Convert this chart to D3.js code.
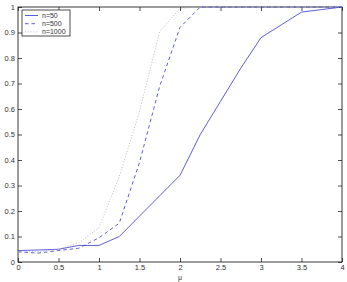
<!DOCTYPE html>
<html><head><meta charset="utf-8">
<script src="https://cdn.jsdelivr.net/npm/d3@7"></script>
<style>body{margin:0;background:#fff}svg{display:block}text{font-family:"Liberation Sans",Arial,sans-serif}</style>
</head><body><svg id="c" width="347" height="282"></svg>
<script>
const mu = [0,0.25,0.5,0.75,1,1.25,1.5,1.75,2,2.25,2.5,2.75,3,3.25,3.5,3.75,4];
const n50   = [0.045,0.047,0.05,0.065,0.065,0.1,0.18,0.26,0.34,0.5,0.63,0.76,0.88,0.93,0.98,0.99,1.0];
const n500  = [0.04,0.035,0.045,0.054,0.095,0.152,0.39,0.69,0.92,1.0,1.0,1.0,1.0,1.0,1.0,1.0,1.0];
const n1000 = [0.04,0.04,0.05,0.075,0.135,0.335,0.59,0.905,0.995,1.0,1.0,1.0,1.0,1.0,1.0,1.0,1.0];
const xTicks = [0,0.5,1,1.5,2,2.5,3,3.5,4];
const yTicks = [0,0.1,0.2,0.3,0.4,0.5,0.6,0.7,0.8,0.9,1];
const seriesNames = ["n=50","n=500","n=1000"];

const svg = d3.select("#c");
const L=18,R=342,T=7,B=262;
const x = d3.scaleLinear().domain([0,4]).range([L,R]);
const y = d3.scaleLinear().domain([0,1]).range([B,T]);
const fmt = d => d3.format("")(d);

const axCol="#222", txtCol="#333";
function axisStyle(g){g.select(".domain").remove();g.selectAll("line").attr("stroke",axCol).attr("stroke-width",0.8);
  g.selectAll("text").attr("fill",txtCol).attr("font-size","7.5px");}
svg.append("g").attr("transform",`translate(0,${B})`)
  .call(d3.axisBottom(x).tickValues(xTicks).tickFormat(fmt).tickSizeInner(-4).tickSizeOuter(0).tickPadding(3)).call(axisStyle);
svg.append("g").attr("transform",`translate(0,${T})`)
  .call(d3.axisTop(x).tickValues(xTicks).tickFormat("").tickSizeInner(-4).tickSizeOuter(0)).call(axisStyle);
svg.append("g").attr("transform",`translate(${L},0)`)
  .call(d3.axisLeft(y).tickValues(yTicks).tickFormat(fmt).tickSizeInner(-4).tickSizeOuter(0).tickPadding(3)).call(axisStyle);
svg.append("g").attr("transform",`translate(${R},0)`)
  .call(d3.axisRight(y).tickValues(yTicks).tickFormat("").tickSizeInner(-4).tickSizeOuter(0)).call(axisStyle);
svg.append("rect").attr("x",L).attr("y",T).attr("width",R-L).attr("height",B-T)
  .attr("fill","none").attr("stroke",axCol).attr("stroke-width",0.9);

const line = d3.line().x((d,i)=>x(mu[i])).y(d=>y(d));
const styles = [
  {data:n50, color:"#4b4bd6", dash:null, w:0.9},
  {data:n500, color:"#4b4bd6", dash:"3.5,3", w:0.9},
  {data:n1000, color:"#a8a8c8", dash:"1,1.8", w:0.8}
];
styles.forEach(s=>{
  svg.append("path").datum(s.data).attr("d",line).attr("fill","none")
    .attr("stroke",s.color).attr("stroke-width",s.w).attr("stroke-dasharray",s.dash);
});

svg.append("text").attr("x",x(2)).attr("y",280).attr("text-anchor","middle")
  .attr("font-size","7px").attr("fill",txtCol).text("μ");

const lg = svg.append("g");
lg.append("rect").attr("x",22).attr("y",10).attr("width",48).attr("height",26)
  .attr("fill","#fff").attr("stroke",axCol).attr("stroke-width",0.8);
seriesNames.forEach((n,i)=>{
  const yy = 15.5 + i*8.2;
  lg.append("line").attr("x1",25).attr("x2",38).attr("y1",yy).attr("y2",yy)
    .attr("stroke",styles[i].color).attr("stroke-width",styles[i].w).attr("stroke-dasharray",styles[i].dash);
  lg.append("text").attr("x",42).attr("y",yy+2.5).attr("font-size","7px").attr("fill",txtCol).text(n);
});
</script></body></html>
